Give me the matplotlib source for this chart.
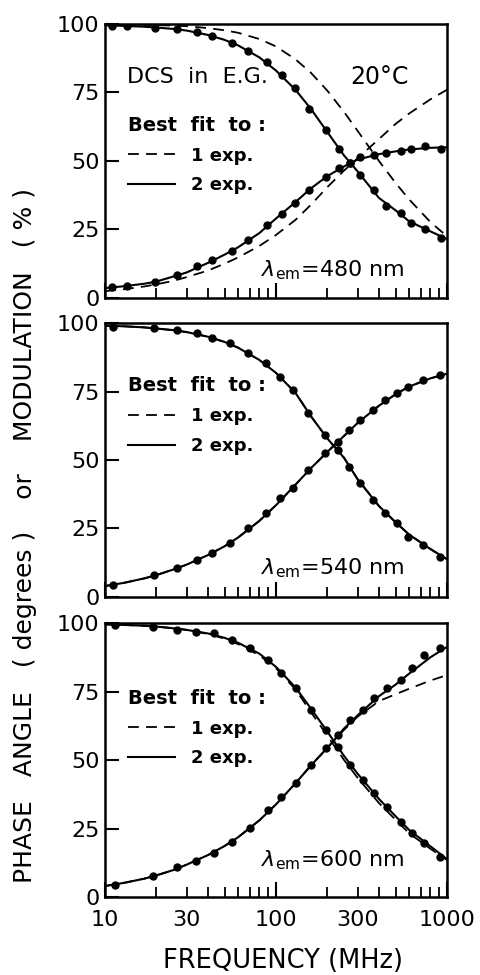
"""
Phase and modulation vs frequency, DCS in ethylene glycol at 20 C.
Three emission wavelengths, best fits to 1 and 2 exponentials.
"""

import matplotlib.pyplot as plt
from matplotlib.lines import Line2D
from matplotlib.ticker import FixedLocator, FuncFormatter, NullFormatter

plt.rcParams['font.family'] = ['DejaVu Sans']

freq_fit = [10, 13, 17, 20, 25, 30, 40, 50, 60, 80, 100, 130, 160, 200, 250,
            300, 400, 500, 600, 800, 1000]

# ---- 480 nm ----
freq_480 = [11, 13.4, 19.5, 26.5, 34.4, 42, 55, 69, 89, 108, 129, 157, 195,
            235, 271, 310, 375, 440, 540, 620, 743, 920]
phase_480 = [4.0, 4.3, 5.8, 8.4, 11.5, 13.8, 17.0, 21.0, 26.5, 30.8, 34.7,
             39.4, 44.0, 47.3, 49.3, 51.5, 52.2, 52.8, 53.6, 54.4, 55.3, 54.3]
mod_480 = [99.3, 99.2, 98.6, 98.3, 97.2, 95.5, 93.0, 90.0, 86.0, 81.5, 76.8,
           68.8, 61.3, 54.5, 49.3, 45.0, 39.4, 33.4, 30.9, 27.4, 25.3, 21.8]
fit1_phase_480 = [2.5, 3.2, 4.2, 5.0, 6.2, 7.6, 10.0, 12.5, 14.8, 19.0, 23.0,
                  28.5, 34.0, 40.5, 46.5, 51.0, 58.0, 63.5, 67.3, 72.5, 76.0]
fit1_mod_480 = [99.9, 99.8, 99.7, 99.6, 99.4, 99.2, 98.5, 97.7, 96.8, 94.5,
                91.8, 87.1, 82.2, 75.6, 67.9, 61.0, 50.0, 42.0, 36.0, 27.7, 22.5]
fit2_phase_480 = [3.6, 4.3, 5.2, 6.0, 7.8, 9.3, 12.8, 15.8, 18.5, 23.7, 29.0,
                  35.0, 40.0, 44.5, 48.0, 50.5, 52.5, 53.5, 54.2, 54.8, 55.0]
fit2_mod_480 = [99.5, 99.3, 99.0, 98.7, 98.2, 97.6, 96.0, 94.2, 92.2, 87.8,
                83.0, 76.0, 69.0, 60.5, 52.0, 46.2, 36.5, 32.0, 28.0, 24.3, 21.5]

# ---- 540 nm ----
freq_540 = [11.2, 19.4, 26.2, 34.3, 42.5, 54, 69, 87, 106, 126, 154, 193, 231,
            268, 312, 371, 433, 508, 595, 725, 908]
phase_540 = [4.4, 8.0, 10.5, 13.5, 15.9, 19.6, 25.0, 30.5, 36.0, 39.7, 46.4,
             52.4, 56.7, 61.0, 64.6, 68.2, 71.9, 74.3, 76.8, 79.2, 81.0]
mod_540 = [98.7, 98.0, 97.4, 96.2, 94.4, 92.6, 89.0, 85.3, 80.4, 75.5, 67.0,
           59.0, 53.6, 47.6, 41.5, 35.4, 30.5, 26.9, 22.0, 19.0, 14.7]
fit1_phase_540 = [4.0, 5.2, 6.8, 8.0, 10.0, 11.8, 15.3, 18.5, 21.7, 27.8, 33.5,
                  41.0, 47.0, 53.0, 58.8, 63.5, 69.8, 74.0, 76.8, 79.8, 81.5]
fit1_mod_540 = [99.0, 98.8, 98.4, 98.0, 97.4, 96.7, 95.0, 93.1, 91.0, 86.5,
                81.8, 74.5, 66.0, 57.8, 50.8, 43.0, 33.2, 27.3, 22.8, 17.5, 13.8]
fit2_phase_540 = [4.0, 5.2, 6.8, 8.0, 10.0, 11.8, 15.3, 18.5, 21.7, 27.8, 33.5,
                  41.0, 47.0, 53.0, 58.8, 63.5, 69.8, 74.0, 76.8, 79.8, 81.5]
fit2_mod_540 = [99.0, 98.8, 98.4, 98.0, 97.4, 96.7, 95.0, 93.1, 91.0, 86.5,
                81.8, 74.5, 66.0, 57.8, 50.8, 43.0, 33.2, 27.3, 22.8, 17.5, 13.8]

# ---- 600 nm ----
freq_600 = [11.5, 19.1, 26.2, 34.2, 43.5, 55, 70, 90, 107, 131, 160, 197, 230,
            272, 324, 376, 446, 538, 622, 737, 916]
phase_600 = [4.4, 7.7, 11.1, 13.3, 15.9, 20.2, 25.1, 31.8, 36.6, 41.5, 48.2,
             54.3, 59.1, 64.6, 68.2, 72.5, 76.2, 79.2, 83.5, 88.3, 90.8]
mod_600 = [99.3, 98.7, 97.4, 96.8, 96.2, 93.8, 90.8, 86.5, 81.6, 76.2, 68.2,
           61.0, 54.9, 48.2, 42.7, 37.8, 33.0, 27.5, 23.2, 19.6, 14.7]
fit1_phase_600 = [4.0, 5.2, 6.7, 7.9, 9.8, 11.8, 15.3, 18.6, 21.8, 28.0, 33.8,
                  41.5, 48.0, 54.5, 61.0, 65.8, 71.5, 74.0, 76.0, 79.0, 81.0]
fit1_mod_600 = [99.5, 99.3, 99.0, 98.7, 98.1, 97.5, 96.0, 94.3, 92.3, 88.2,
                83.5, 75.8, 67.5, 58.8, 50.0, 43.5, 34.3, 28.2, 23.3, 17.6, 13.5]
fit2_phase_600 = [4.0, 5.2, 6.7, 7.9, 9.8, 11.8, 15.3, 18.6, 21.8, 28.0, 33.8,
                  41.5, 48.0, 54.5, 61.5, 66.3, 73.3, 77.5, 81.5, 87.5, 91.3]
fit2_mod_600 = [99.5, 99.3, 99.0, 98.7, 98.1, 97.5, 96.2, 94.6, 92.8, 88.8,
                84.0, 76.5, 68.8, 60.3, 51.5, 45.0, 35.8, 29.5, 24.5, 18.5, 13.8]

panels = [
    (freq_480, phase_480, mod_480, fit1_phase_480, fit1_mod_480, fit2_phase_480, fit2_mod_480, '480'),
    (freq_540, phase_540, mod_540, fit1_phase_540, fit1_mod_540, fit2_phase_540, fit2_mod_540, '540'),
    (freq_600, phase_600, mod_600, fit1_phase_600, fit1_mod_600, fit2_phase_600, fit2_mod_600, '600'),
]

fig = plt.figure(figsize=(4.81, 9.75), dpi=100)

bottoms = [0.6944, 0.3877, 0.080]
legend_tops = [0.665, 0.805, 0.76]
lam_y = [0.10, 0.106, 0.135]
dash = (0, (6, 4))

for i, (f, ph, md, f1p, f1m, f2p, f2m, lam) in enumerate(panels):
    ax = fig.add_axes([0.2183, bottoms[i], 0.711, 0.281])

    # fits
    ax.plot(freq_fit, f1p, color='k', lw=1.3, linestyle=dash)
    ax.plot(freq_fit, f1m, color='k', lw=1.3, linestyle=dash)
    ax.plot(freq_fit, f2p, color='k', lw=1.5)
    ax.plot(freq_fit, f2m, color='k', lw=1.5)
    # data
    ax.plot(f, ph, 'o', color='k', ms=5)
    ax.plot(f, md, 'o', color='k', ms=5)

    ax.set_xscale('log')
    ax.set_xlim(10, 1000)
    ax.set_ylim(0, 100)

    ax.set_yticks([0, 25, 50, 75, 100])
    ax.tick_params(axis='y', direction='in', length=10, width=1.5,
                   labelsize=16, pad=4)

    ax.xaxis.set_major_locator(FixedLocator([10, 100, 1000]))
    ax.xaxis.set_minor_locator(FixedLocator([20, 30, 40, 50, 60, 70, 80, 90,
                                             200, 300, 400, 500, 600, 700, 800, 900]))
    ax.tick_params(axis='x', which='major', direction='in', length=11, width=1.5,
                   labelsize=16, pad=9)
    ax.tick_params(axis='x', which='minor', direction='in', length=7, width=1.3,
                   labelsize=16, pad=9)
    if i == 2:
        ax.xaxis.set_major_formatter(FuncFormatter(lambda v, p: '%d' % v))
        ax.xaxis.set_minor_formatter(
            FuncFormatter(lambda v, p: '%d' % v if round(v) in (30, 300) else ''))
    else:
        ax.xaxis.set_major_formatter(NullFormatter())
        ax.xaxis.set_minor_formatter(NullFormatter())

    for s in ax.spines.values():
        s.set_linewidth(1.8)

    # legend for the fits
    handles = [Line2D([], [], color='k', lw=1.3, linestyle=dash),
               Line2D([], [], color='k', lw=1.5)]
    leg = ax.legend(handles, ['1 exp.', '2 exp.'], title='Best  fit  to :',
                    loc='upper left', bbox_to_anchor=(0.067, legend_tops[i]),
                    frameon=False, prop={'size': 13, 'weight': 'bold'},
                    title_fontproperties={'size': 14, 'weight': 'bold'},
                    handlelength=2.6, handletextpad=0.9, labelspacing=0.65,
                    borderpad=0, borderaxespad=0, alignment='left')

    ax.text(0.455, lam_y[i], r'$\lambda_{\rm em}$=' + lam + ' nm',
            transform=ax.transAxes, fontsize=16, va='center', ha='left')

    if i == 0:
        ax.text(0.064, 0.807, 'DCS  in  E.G.', transform=ax.transAxes,
                fontsize=16, va='center', ha='left')
        ax.text(0.716, 0.807, '20°C', transform=ax.transAxes,
                fontsize=17, va='center', ha='left')

fig.text(0.052, 0.451, 'PHASE   ANGLE   ( degrees )    or    MODULATION   ( % )',
         rotation=90, fontsize=18, ha='center', va='center')
fig.text(0.588, 0.0144, 'FREQUENCY (MHz)', fontsize=18.5, ha='center', va='center')

plt.savefig('out.png', dpi=100)
